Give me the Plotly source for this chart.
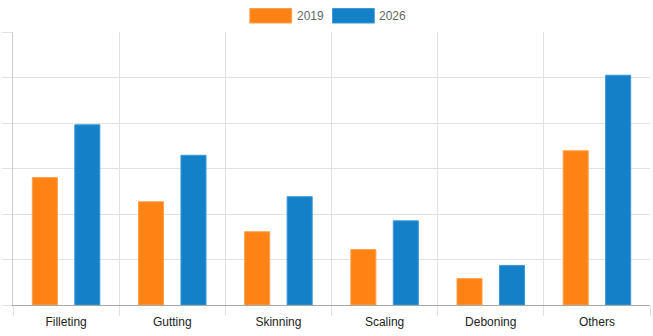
import plotly.graph_objects as go

categories = ["Filleting", "Gutting", "Skinning", "Scaling", "Deboning", "Others"]
values_2019 = [280, 227, 161, 122, 58, 339]
values_2026 = [396, 329, 238, 185, 87, 505]
series_names = ["2019", "2026"]
colors = ["#FF8214", "#1380C8"]
border_colors = ["#FFA04D", "#3A98D8"]

fig = go.Figure()
for name, vals, c, bc in zip(series_names, [values_2019, values_2026], colors, border_colors):
    fig.add_trace(go.Bar(
        x=categories, y=vals, name=name,
        marker=dict(color=c, line=dict(color=bc, width=1)),
        showlegend=False,
    ))

PL, PW, PB, PH = 10, 640, 305.5, 273.5

fig.update_layout(
    width=653, height=336,
    margin=dict(l=10, r=3, t=32, b=30.5),
    plot_bgcolor="white", paper_bgcolor="white",
    barmode="group", bargap=0.2, bargroupgap=0.41,
    font=dict(family="Liberation Sans, Arial, sans-serif", size=12, color="#666"),
    xaxis=dict(
        type="category", tickson="boundaries", showgrid=True, gridcolor="#e2e2e2",
        ticks="outside", ticklen=10, tickcolor="#e2e2e2",
        showline=True, linecolor="#a8a8a8", linewidth=1,
        tickfont=dict(color="#222", size=12),
        ticklabelstandoff=6,
        fixedrange=True,
    ),
    yaxis=dict(
        range=[0, 600], dtick=100, showgrid=True, gridcolor="#e2e2e2",
        ticks="outside", ticklen=10, tickcolor="#e2e2e2",
        showticklabels=False, showline=True, linecolor="#cccccc",
        zeroline=False, fixedrange=True,
    ),
)

# custom legend (wide swatches as in the reference)
legend_x = [248, 331]
for i, name in enumerate(series_names):
    x0 = legend_x[i]
    fig.add_shape(type="rect", xref="paper", yref="paper",
                  x0=(x0 - PL) / PW, x1=(x0 + 42 - PL) / PW,
                  y0=(PB - 23) / PH, y1=(PB - 8.5) / PH,
                  fillcolor=colors[i], line=dict(color=border_colors[i], width=1))
    fig.add_annotation(xref="paper", yref="paper",
                       x=(x0 + 45 - PL) / PW, y=(PB - 15.5) / PH,
                       text=name, showarrow=False, xanchor="left", yanchor="middle",
                       font=dict(size=12, color="#666"))

fig.write_html("out.html")
